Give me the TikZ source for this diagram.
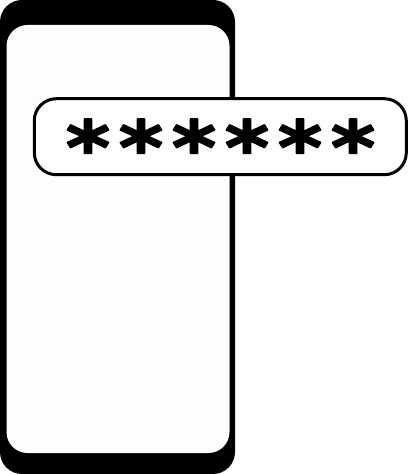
\documentclass[tikz,border=0pt]{standalone}
\usepackage{fontspec}
\newfontfamily\starfont{DejaVu Sans Bold}[FakeBold=2.2,FakeStretch=1.15,LetterSpace=11.5]
\begin{document}
\begin{tikzpicture}[x=1bp,y=-1bp,line join=round,line cap=round]
	\def\W{408} \def\H{474} % page size
	\def\xa{0} \def\xb{235} % phone body
	\def\ya{0} \def\yb{474}
	\useasboundingbox (0,0) rectangle (\W,\H);
	\fill[black,rounded corners=22bp] (\xa,\ya) rectangle (\xb,\yb);
	\fill[white!99.4!black,rounded corners=21bp] (6.5,25) rectangle (229.5,453);
	\node[draw=black,fill=white,line width=3bp,rounded corners=22bp,minimum width=372bp,minimum height=76bp,inner sep=0pt] (field) at (220.3,136.7) {};
	\node[inner sep=0pt,font=\starfont\fontsize{74bp}{74bp}\selectfont] (stars) at (220.5,146.5) {******};
\end{tikzpicture}
\end{document}
